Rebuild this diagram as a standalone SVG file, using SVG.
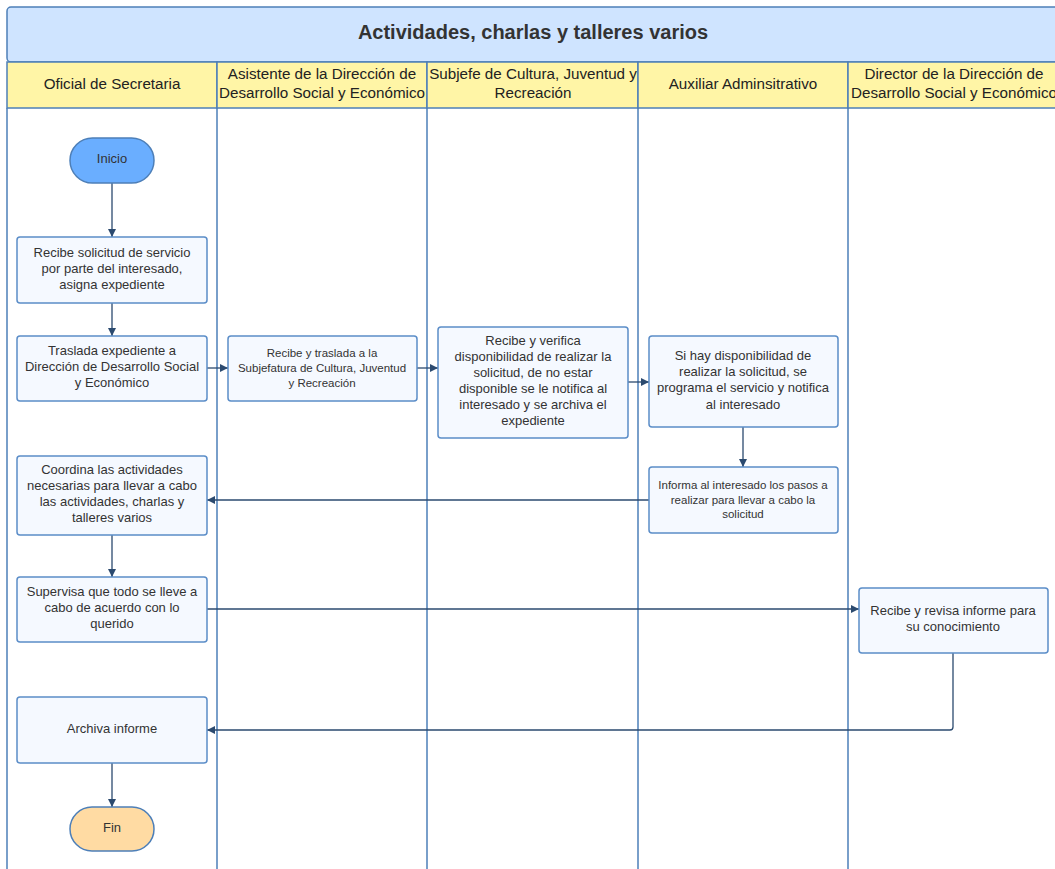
<svg xmlns="http://www.w3.org/2000/svg" width="1055" height="869" viewBox="0 0 1055 869">
  <defs>
    <marker id="arrow" markerWidth="10" markerHeight="10" refX="8" refY="4" orient="auto" markerUnits="userSpaceOnUse">
      <path d="M0,0 L8,4 L0,8 Z" fill="#2b4a6f"/>
    </marker>
    <style>
      .title { fill: #cfe4ff; stroke: #4d7fb8; stroke-width: 1.5; }
      .head { fill: #fff5a6; stroke: #4d7fb8; stroke-width: 1.5; }
      .lane { fill: none; stroke: #4d7fb8; stroke-width: 1.5; }
      .box { fill: #f5f9ff; stroke: #5b8dc8; stroke-width: 1.5; }
      .start { fill: #6aaeff; stroke: #4d7fb8; stroke-width: 1.5; }
      .end { fill: #ffdba3; stroke: #4d7fb8; stroke-width: 1.5; }
      .conn { fill: none; stroke: #2b4a6f; stroke-width: 1.3; marker-end: url(#arrow); }
      text { font-family: "Liberation Sans", Arial, sans-serif; fill: #333333; text-anchor: middle; }
      .t-title { font-size: 20px; font-weight: bold; }
      .t-head { font-size: 15.2px; fill: #222222; }
      .t-box { font-size: 13px; }
      .t-small { font-size: 11.5px; }
    </style>
  </defs>

  <!-- pool title -->
  <g id="pool-title">
    <rect class="title" x="7" y="7" width="1060" height="55" rx="4"/>
    <text class="t-title" x="533" y="39">Actividades, charlas y talleres varios</text>
  </g>

  <!-- lane headers -->
  <g id="lane-headers">
    <rect class="head" x="7" y="62" width="210" height="46"/>
    <rect class="head" x="217" y="62" width="210" height="46"/>
    <rect class="head" x="427" y="62" width="211" height="46"/>
    <rect class="head" x="638" y="62" width="210" height="46"/>
    <rect class="head" x="848" y="62" width="220" height="46"/>
    <text class="t-head" x="112" y="89">Oficial de Secretaria</text>
    <text class="t-head" x="322" y="79">Asistente de la Dirección de</text>
    <text class="t-head" x="322" y="98">Desarrollo Social y Económico</text>
    <text class="t-head" x="533" y="79">Subjefe de Cultura, Juventud y</text>
    <text class="t-head" x="533" y="98">Recreación</text>
    <text class="t-head" x="743" y="89">Auxiliar Adminsitrativo</text>
    <text class="t-head" x="954" y="79">Director de la Dirección de</text>
    <text class="t-head" x="954" y="98">Desarrollo Social y Económico</text>
  </g>

  <!-- lane separators -->
  <g id="lanes">
    <line class="lane" x1="7" y1="108" x2="7" y2="869"/>
    <line class="lane" x1="217" y1="108" x2="217" y2="869"/>
    <line class="lane" x1="427" y1="108" x2="427" y2="869"/>
    <line class="lane" x1="638" y1="108" x2="638" y2="869"/>
    <line class="lane" x1="848" y1="108" x2="848" y2="869"/>
  </g>

  <!-- connectors -->
  <g id="connectors">
    <path class="conn" d="M112,183 L112,237"/>
    <path class="conn" d="M112,303 L112,336"/>
    <path class="conn" d="M207,368 L228,368"/>
    <path class="conn" d="M417,368 L438,368"/>
    <path class="conn" d="M628,382 L649,382"/>
    <path class="conn" d="M743,427 L743,467"/>
    <path class="conn" d="M649,500 L207,500"/>
    <path class="conn" d="M112,535 L112,577"/>
    <path class="conn" d="M207,609 L859,609"/>
    <path class="conn" d="M953,653 L953,727 Q953,730 950,730 L207,730"/>
    <path class="conn" d="M112,763 L112,807"/>
  </g>

  <!-- nodes -->
  <g id="inicio">
    <rect class="start" x="70" y="138" width="84" height="45" rx="22.5"/>
    <text class="t-box" x="112" y="163">Inicio</text>
  </g>

  <g id="recibe-solicitud">
    <rect class="box" x="17" y="237" width="190" height="66" rx="3"/>
    <text class="t-box" x="112" y="257">Recibe solicitud de servicio</text>
    <text class="t-box" x="112" y="273">por parte del interesado,</text>
    <text class="t-box" x="112" y="289">asigna expediente</text>
  </g>

  <g id="traslada-expediente">
    <rect class="box" x="17" y="336" width="190" height="65" rx="3"/>
    <text class="t-box" x="112" y="355">Traslada expediente a</text>
    <text class="t-box" x="112" y="371">Dirección de Desarrollo Social</text>
    <text class="t-box" x="112" y="387">y Económico</text>
  </g>

  <g id="recibe-traslada">
    <rect class="box" x="228" y="336" width="189" height="65" rx="3"/>
    <text class="t-small" x="322" y="357">Recibe y traslada a la</text>
    <text class="t-small" x="322" y="372">Subjefatura de Cultura, Juventud</text>
    <text class="t-small" x="322" y="387">y Recreación</text>
  </g>

  <g id="verifica-disponibilidad">
    <rect class="box" x="438" y="327" width="190" height="111" rx="3"/>
    <text class="t-box" x="533" y="345">Recibe y verifica</text>
    <text class="t-box" x="533" y="361">disponibilidad de realizar la</text>
    <text class="t-box" x="533" y="377">solicitud, de no estar</text>
    <text class="t-box" x="533" y="393">disponible se le notifica al</text>
    <text class="t-box" x="533" y="409">interesado y se archiva el</text>
    <text class="t-box" x="533" y="425">expediente</text>
  </g>

  <g id="programa-servicio">
    <rect class="box" x="649" y="336" width="189" height="91" rx="3"/>
    <text class="t-box" x="743" y="360">Si hay disponibilidad de</text>
    <text class="t-box" x="743" y="376">realizar la solicitud, se</text>
    <text class="t-box" x="743" y="392">programa el servicio y notifica</text>
    <text class="t-box" x="743" y="409">al interesado</text>
  </g>

  <g id="informa-pasos">
    <rect class="box" x="649" y="467" width="189" height="66" rx="3"/>
    <text class="t-small" x="743" y="489">Informa al interesado los pasos a</text>
    <text class="t-small" x="743" y="504">realizar para llevar a cabo la</text>
    <text class="t-small" x="743" y="518">solicitud</text>
  </g>

  <g id="coordina-actividades">
    <rect class="box" x="17" y="456" width="190" height="79" rx="3"/>
    <text class="t-box" x="112" y="474">Coordina las actividades</text>
    <text class="t-box" x="112" y="490">necesarias para llevar a cabo</text>
    <text class="t-box" x="112" y="506">las actividades, charlas y</text>
    <text class="t-box" x="112" y="522">talleres varios</text>
  </g>

  <g id="supervisa">
    <rect class="box" x="17" y="577" width="190" height="65" rx="3"/>
    <text class="t-box" x="112" y="596">Supervisa que todo se lleve a</text>
    <text class="t-box" x="112" y="612">cabo de acuerdo con lo</text>
    <text class="t-box" x="112" y="628">querido</text>
  </g>

  <g id="revisa-informe">
    <rect class="box" x="859" y="588" width="189" height="65" rx="3"/>
    <text class="t-box" x="953" y="615">Recibe y revisa informe para</text>
    <text class="t-box" x="953" y="631">su conocimiento</text>
  </g>

  <g id="archiva-informe">
    <rect class="box" x="17" y="697" width="190" height="66" rx="3"/>
    <text class="t-box" x="112" y="733">Archiva informe</text>
  </g>

  <g id="fin">
    <rect class="end" x="70" y="807" width="84" height="44" rx="22"/>
    <text class="t-box" x="112" y="832">Fin</text>
  </g>
</svg>
